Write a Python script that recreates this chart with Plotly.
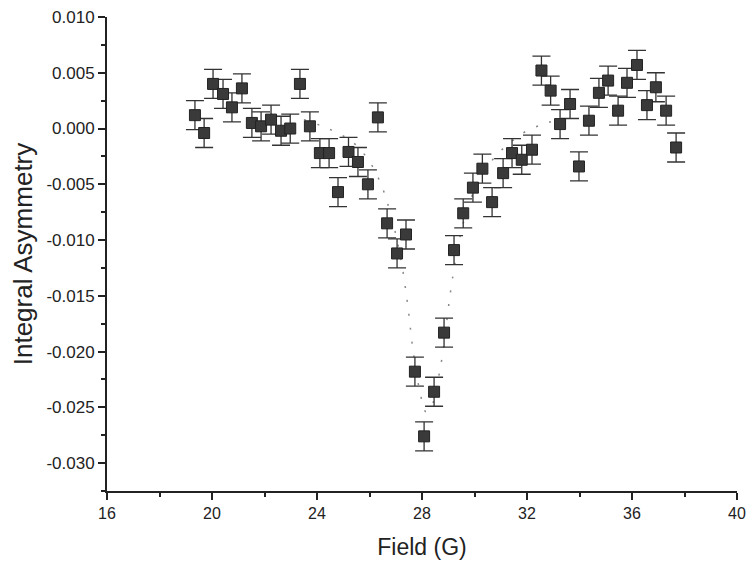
import plotly.graph_objects as go

field = [19.35, 19.70, 20.04, 20.42, 20.76, 21.14, 21.52, 21.87, 22.25, 22.63,
         22.98, 23.35, 23.73, 24.11, 24.46, 24.80, 25.20, 25.56, 25.94, 26.32,
         26.67, 27.05, 27.39, 27.73, 28.08, 28.46, 28.84, 29.22, 29.57, 29.94,
         30.30, 30.67, 31.09, 31.43, 31.80, 32.19, 32.55, 32.90, 33.26, 33.64,
         33.98, 34.36, 34.74, 35.09, 35.47, 35.81, 36.19, 36.57, 36.91, 37.30,
         37.68]
asym = [0.0012, -0.0004, 0.0040, 0.0031, 0.0019, 0.0036, 0.0005, 0.0002, 0.0008, -0.0002,
        0.0000, 0.0040, 0.0002, -0.0022, -0.0022, -0.0057, -0.0021, -0.0030, -0.0050, 0.0010,
        -0.0085, -0.0112, -0.0095, -0.0218, -0.0276, -0.0236, -0.0183, -0.0109, -0.0076, -0.0053,
        -0.0036, -0.0066, -0.0040, -0.0022, -0.0028, -0.0019, 0.0052, 0.0034, 0.0004, 0.0022,
        -0.0034, 0.0007, 0.0032, 0.0043, 0.0016, 0.0041, 0.0057, 0.0021, 0.0037, 0.0016,
        -0.0017]
err = [0.0013] * len(field)

fit_x = [23.5, 24.2, 24.95, 25.5, 26.06, 26.44, 26.7, 27.0, 27.24, 27.47, 27.66, 27.92,
         28.15, 28.35, 28.55, 28.76, 29.07, 29.3, 29.57, 30.0, 30.5, 31.0, 31.5, 32.0,
         32.76, 33.5]
fit_y = [0.0008, 0.0002, -0.0006, -0.0015, -0.0032, -0.0050, -0.0068, -0.0095, -0.0123,
         -0.0161, -0.0199, -0.0236, -0.0254, -0.0250, -0.0232, -0.0206, -0.0149, -0.0115,
         -0.0085, -0.0055, -0.0034, -0.0020, -0.0010, -0.0002, 0.0005, 0.0009]

x_ticks = [16, 20, 24, 28, 32, 36, 40]
y_ticks = [0.010, 0.005, 0.000, -0.005, -0.010, -0.015, -0.020, -0.025, -0.030]
y_ticktext = ["0.010", "0.005", "0.000", "-0.005", "-0.010", "-0.015", "-0.020", "-0.025", "-0.030"]

fig = go.Figure()
fig.add_trace(go.Scatter(
    x=fit_x, y=fit_y, mode="lines",
    line=dict(color="#888888", width=1.5, dash="2px,12px", shape="spline"),
    showlegend=False, hoverinfo="skip"))
fig.add_trace(go.Scatter(
    x=field, y=asym, mode="markers",
    marker=dict(symbol="square", size=11, color="#3a3a3a",
                line=dict(color="#222222", width=1)),
    error_y=dict(type="data", array=err, visible=True, color="#333333",
                 thickness=1.3, width=9),
    showlegend=False))

font = "Arial, Liberation Sans, sans-serif"
fig.update_layout(
    width=750, height=571,
    margin=dict(l=107, r=13, t=17, b=80),
    paper_bgcolor="white", plot_bgcolor="white",
    font=dict(family=font, color="#222222", size=16),
    xaxis=dict(range=[16, 40], tickvals=x_ticks, ticks="outside", ticklen=7,
               tickwidth=2, tickcolor="#222", showline=True, linecolor="#222",
               linewidth=2, showgrid=False, zeroline=False, automargin=False,
               minor=dict(tickvals=[18, 22, 26, 30, 34, 38], ticks="outside",
                          ticklen=4, tickwidth=2, tickcolor="#222"),
               title=dict(text="Field (G)", font=dict(size=23), standoff=18),
               tickfont=dict(size=16)),
    yaxis=dict(range=[-0.0325, 0.010], tickvals=y_ticks, ticktext=y_ticktext,
               ticks="outside", ticklen=7, tickwidth=2, tickcolor="#222",
               showline=True, linecolor="#222", linewidth=2, showgrid=False,
               zeroline=False, automargin=False,
               minor=dict(tickvals=[0.0075, 0.0025, -0.0025, -0.0075, -0.0125,
                                    -0.0175, -0.0225, -0.0275, -0.0325],
                          ticks="outside", ticklen=4, tickwidth=2, tickcolor="#222"),
               title=dict(text="Integral Asymmetry", font=dict(size=26), standoff=6),
               tickfont=dict(size=17)),
)
fig.write_html("out.html")
